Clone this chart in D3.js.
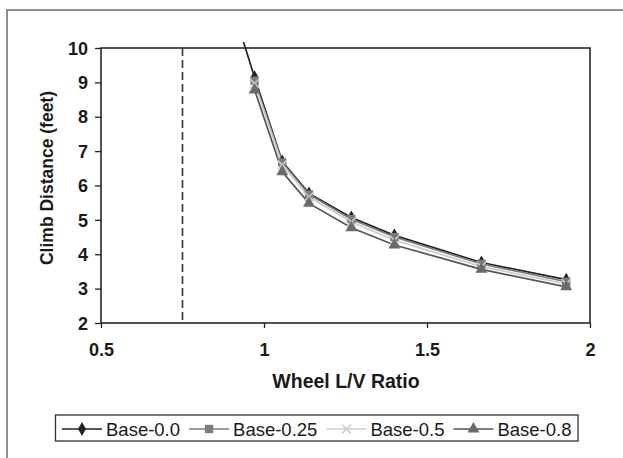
<!DOCTYPE html>
<html>
<head>
<meta charset="utf-8">
<script src="https://cdn.jsdelivr.net/npm/d3@7"></script>
<style>
  body { margin: 0; background: #fff; }
  svg text { font-family: "Liberation Sans", Arial, sans-serif; fill: #1a1a1a; }
</style>
</head>
<body>
<div id="chart"></div>
<script>
// wheel L/V ratio at each computed point
const lvRatio = [0.971, 1.056, 1.138, 1.268, 1.400, 1.667, 1.927];
// Base-0.0 has one more point off the top of the chart
const lvRatio00 = [0.90, 0.971, 1.056, 1.138, 1.268, 1.400, 1.667, 1.927];

const base00  = [11.3, 9.15, 6.70, 5.77, 5.07, 4.55, 3.76, 3.26];
const base025 = [9.05, 6.67, 5.74, 5.02, 4.50, 3.72, 3.20];
const base05  = [8.97, 6.60, 5.67, 4.94, 4.41, 3.64, 3.14];
const base08  = [8.78, 6.40, 5.48, 4.77, 4.27, 3.56, 3.05];

const seriesNames = ['Base-0.0', 'Base-0.25', 'Base-0.5', 'Base-0.8'];
const xTicks = [0.5, 1, 1.5, 2];
const yTicks = [2, 3, 4, 5, 6, 7, 8, 9, 10];
const limitLV = 0.75;   // dashed reference line

const W = 623, H = 458;
const margin = {top: 48, right: 33, bottom: 135, left: 101};
const width = W - margin.left - margin.right;
const height = H - margin.top - margin.bottom;

const styles = [
    {line: '#222', fill: '#222', symbol: d3.symbolDiamond, size: 55},
    {line: '#7c7c7c', fill: '#7c7c7c', symbol: d3.symbolSquare, size: 70},
    {line: '#cdcdcd', fill: '#cdcdcd', symbol: d3.symbolCross, size: 45, isX: true},
    {line: '#555', fill: '#6a6a6a', symbol: d3.symbolTriangle, size: 62}
];

const series = [
    {name: seriesNames[0], xs: lvRatio00, ys: base00},
    {name: seriesNames[1], xs: lvRatio, ys: base025},
    {name: seriesNames[2], xs: lvRatio, ys: base05},
    {name: seriesNames[3], xs: lvRatio, ys: base08}
].map((s, i) => ({...s, style: styles[i], points: s.xs.map((x, j) => ({x: x, y: s.ys[j]}))}));

const svg = d3.select('#chart').append('svg')
    .attr('width', W)
    .attr('height', H);

svg.append('rect').attr('width', W).attr('height', H).attr('fill', '#fff');

// outer frame (top and left edges visible)
svg.append('path')
    .attr('d', `M7,${H} V10 H${W}`)
    .attr('fill', 'none')
    .attr('stroke', '#6a6a6a')
    .attr('stroke-width', 1.5);

const x = d3.scaleLinear().domain([0.5, 2]).range([0, width]);
const y = d3.scaleLinear().domain([2, 10]).range([height, 0]);

const g = svg.append('g')
    .attr('transform', `translate(${margin.left},${margin.top})`);

// clip lets the Base-0.0 lead-in poke a few pixels over the top edge
svg.append('defs').append('clipPath')
    .attr('id', 'plot-clip')
    .append('rect')
    .attr('x', 0).attr('y', -6)
    .attr('width', width).attr('height', height + 6);

// dashed limit line
g.append('line')
    .attr('x1', x(limitLV)).attr('x2', x(limitLV))
    .attr('y1', 0).attr('y2', height)
    .attr('stroke', '#333')
    .attr('stroke-width', 1.6)
    .attr('stroke-dasharray', '8,4');

// axes
const xAxis = g.append('g')
    .attr('transform', `translate(0,${height})`)
    .call(d3.axisBottom(x).tickValues(xTicks).tickSize(5).tickPadding(15).tickFormat(d3.format('')));
const yAxis = g.append('g')
    .call(d3.axisLeft(y).tickValues(yTicks).tickSize(6).tickPadding(7));

[xAxis, yAxis].forEach(a => {
    a.select('.domain').remove();
    a.selectAll('line').attr('stroke', '#222').attr('stroke-width', 1.3);
    a.selectAll('text')
        .attr('font-size', 18)
        .attr('font-weight', 'bold')
        .attr('fill', '#1a1a1a')
        .style('font-family', '"Liberation Sans", Arial, sans-serif');
});
yAxis.selectAll('text').attr('dy', '0.34em');

// plot frame
g.append('rect')
    .attr('width', width).attr('height', height)
    .attr('fill', 'none')
    .attr('stroke', '#1a1a1a')
    .attr('stroke-width', 1.5);

const line = d3.line().x(d => x(d.x)).y(d => y(d.y));

const plot = g.append('g').attr('clip-path', 'url(#plot-clip)');

function drawMarker(sel, style) {
    const sym = d3.symbol().type(style.symbol).size(style.size);
    if (style.isX) {
        sel.append('path')
            .attr('d', 'M-4.5,-4.5L4.5,4.5M-4.5,4.5L4.5,-4.5')
            .attr('stroke', style.fill)
            .attr('stroke-width', 1.5)
            .attr('fill', 'none');
    } else {
        sel.append('path')
            .attr('d', sym())
            .attr('fill', style.fill);
    }
}

series.forEach(s => {
    plot.append('path')
        .datum(s.points)
        .attr('d', line)
        .attr('fill', 'none')
        .attr('stroke', s.style.line)
        .attr('stroke-width', 1.7);
});

series.forEach(s => {
    const m = plot.append('g').selectAll('g')
        .data(s.points.filter(p => p.y <= 10))
        .join('g')
        .attr('transform', d => `translate(${x(d.x)},${y(d.y)})`);
    m.each(function() { drawMarker(d3.select(this), s.style); });
});

// axis titles
svg.append('text')
    .attr('x', 346).attr('y', 388)
    .attr('text-anchor', 'middle')
    .attr('font-size', 19.5)
    .attr('font-weight', 'bold')
    .text('Wheel L/V Ratio');

svg.append('text')
    .attr('transform', 'translate(53,178) rotate(-90)')
    .attr('text-anchor', 'middle')
    .attr('font-size', 17.5)
    .attr('font-weight', 'bold')
    .text('Climb Distance (feet)');

// legend
const legend = svg.append('g');
legend.append('rect')
    .attr('x', 55.5).attr('y', 415)
    .attr('width', 522.5).attr('height', 26)
    .attr('fill', '#fff')
    .attr('stroke', '#333')
    .attr('stroke-width', 1.3);

let lx = 62;
series.forEach(s => {
    const item = legend.append('g');
    item.append('line')
        .attr('x1', lx).attr('x2', lx + 40)
        .attr('y1', 429).attr('y2', 429)
        .attr('stroke', s.style.line)
        .attr('stroke-width', 1.5);
    const mk = item.append('g').attr('transform', `translate(${lx + 20},429)`);
    drawMarker(mk, s.style);
    const t = item.append('text')
        .attr('x', lx + 44).attr('y', 435.5)
        .attr('font-size', 18.5)
        .text(s.name);
    lx += 44 + t.node().getComputedTextLength() + 9;
});
</script>
</body>
</html>
